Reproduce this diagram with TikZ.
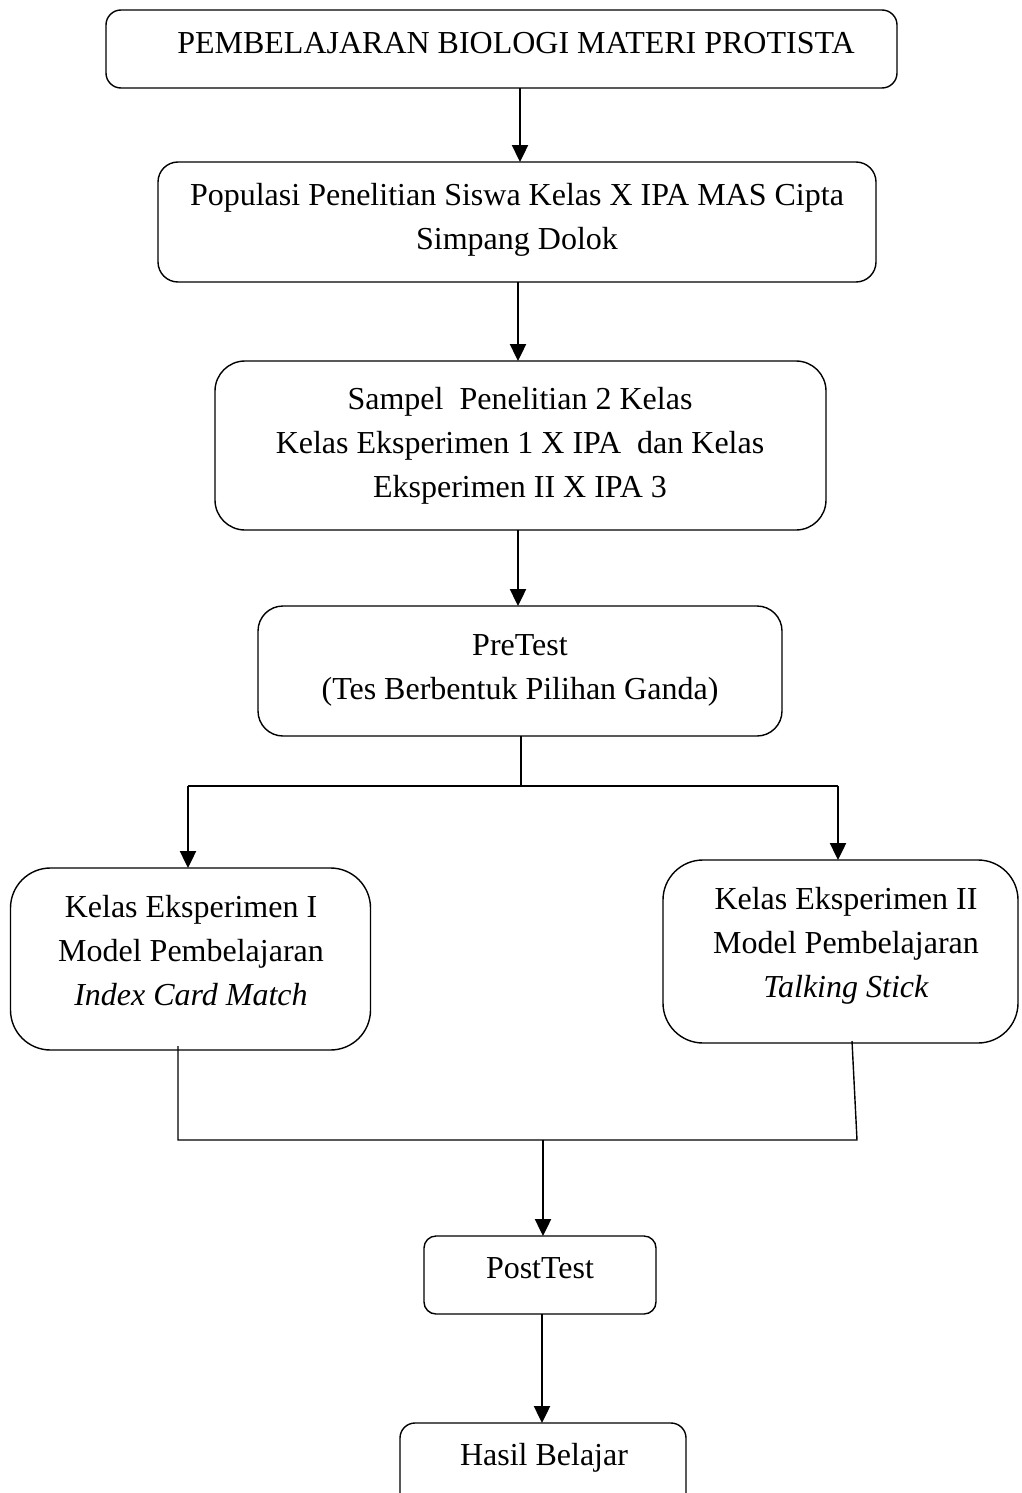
\documentclass[tikz,border=0pt]{standalone}
\usepackage{fontspec}
\setmainfont{Liberation Serif}
\usetikzlibrary{arrows.meta}
\begin{document}
\begin{tikzpicture}[x=1pt,y=-1pt,
  boxst/.style={draw,line width=1.4pt,inner sep=0pt,outer sep=0pt},
  txt/.style={align=center,inner sep=0pt,font=\fontsize{32}{44}\selectfont},
  arr/.style={line width=2.4pt,-{Triangle[length=17pt,width=16pt]}},
  ln/.style={line width=1.4pt}]
\useasboundingbox (0,0) rectangle (1022,1493);
\clip (0,0) rectangle (1022,1493);
\fill[white] (0,0) rectangle (1022,1493);
% boxes
\node[boxst,rounded corners=15pt,minimum width=791pt,minimum height=78pt] (b1) at (501.5,49) {};
\node[boxst,rounded corners=20pt,minimum width=718pt,minimum height=120pt] (b2) at (517,222) {};
\node[boxst,rounded corners=30pt,minimum width=611pt,minimum height=169pt] (b3) at (520.5,445.5) {};
\node[boxst,rounded corners=25pt,minimum width=524pt,minimum height=130pt] (b4) at (520,671) {};
\node[boxst,rounded corners=40pt,minimum width=360pt,minimum height=182pt] (b5) at (190.5,959) {};
\node[boxst,rounded corners=40pt,minimum width=355pt,minimum height=183pt] (b6) at (840.5,951.5) {};
\node[boxst,rounded corners=12pt,minimum width=232pt,minimum height=78pt] (b7) at (540,1275) {};
\node[boxst,rounded corners=15pt,minimum width=286pt,minimum height=90pt] (b8) at (543,1468) {};
% texts
\node[txt] (t1) at (516,43) {PEMBELAJARAN BIOLOGI MATERI PROTISTA};
\node[txt] (t2) at (517,220) {Populasi Penelitian Siswa Kelas X IPA MAS Cipta\\Simpang Dolok};
\node[txt] (t3) at (520,445.5) {Sampel\ \ Penelitian 2 Kelas\\Kelas Eksperimen 1 X IPA\ \ dan Kelas\\Eksperimen II X IPA 3};
\node[txt] (t4) at (520,670) {PreTest\\(Tes Berbentuk Pilihan Ganda)};
\node[txt] (t5) at (191,951) {Kelas Eksperimen I\\Model Pembelajaran\\\textit{Index Card Match}};
\node[txt] (t6) at (846,946) {Kelas Eksperimen II\\Model Pembelajaran\\\textit{Talking Stick}};
\node[txt] (t7) at (540,1268) {PostTest};
\node[txt] (t8) at (544,1458) {Hasil Belajar};
% connectors
\draw[arr] (b1.south -| 520,0) -- (b2.north -| 520,0);
\draw[arr] (b2.south -| 518,0) -- (b3.north -| 518,0);
\draw[arr] (b3.south -| 518,0) -- (b4.north -| 518,0);
\coordinate (s4) at (521,786);
\coordinate (sl) at (188,786);
\coordinate (sr) at (838,786);
\draw[ln] (b4.south -| s4) -- (s4);
\draw[ln] (sl) -- (sr);
\draw[arr] (sl) -- (b5.north -| sl);
\draw[arr] (sr) -- (b6.north -| sr);
\coordinate (jl) at (178,1140);
\coordinate (jr) at (857,1140);
\coordinate (jm) at (543,1140);
\coordinate (r6) at (852,1041);
\draw[ln] (178,1046) -- (jl) -- (jr) -- (r6);
\draw[arr] (jm) -- (b7.north -| jm);
\draw[arr] (b7.south -| 542,0) -- (b8.north -| 542,0);
\end{tikzpicture}
\end{document}
